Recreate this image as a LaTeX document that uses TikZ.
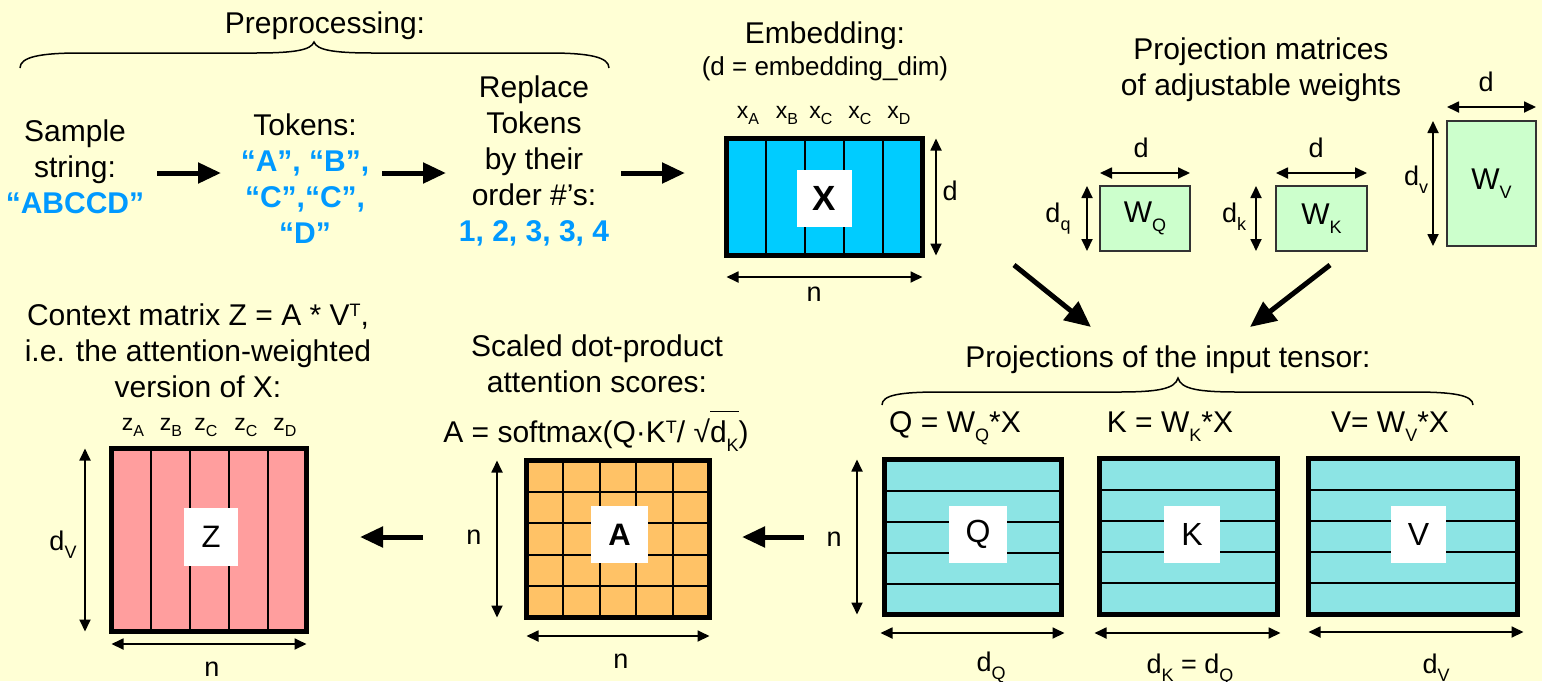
\documentclass[tikz,border=0pt]{standalone}
\usepackage{fontspec}
\setmainfont{Liberation Sans}
\usetikzlibrary{arrows.meta,calc}

\definecolor{bgyellow}{HTML}{FFFFD5}
\definecolor{tokblue}{HTML}{0099FF}
\definecolor{embfill}{HTML}{00CCFF}
\definecolor{wfill}{HTML}{CCFFCC}
\definecolor{projfill}{HTML}{8CE4E4}
\definecolor{ctxfill}{HTML}{FF9E9E}
\definecolor{attfill}{HTML}{FFC266}

% small lowered / raised text in the current font family
\newcommand\subtx[2][18]{\raisebox{-0.3em}{\fontsize{#1}{#1}\selectfont #2}}
\newcommand\suptx[2][18]{\raisebox{0.3em}{\fontsize{#1}{#1}\selectfont #2}}
\newcommand\tokfmt{\color{tokblue}\bfseries}
% bar drawn over its argument (radicand of the square root)
\newcommand\ovl[1]{\setbox0=\hbox{#1}\rlap{\rule[1.0em]{\wd0}{1.5pt}}\box0}

\tikzset{
  every node/.style={inner sep=0pt, outer sep=0pt},
  txt/.style={font=\fontsize{30}{36}\selectfont, align=center},
  note/.style={font=\fontsize{26}{30}\selectfont},
  dimlbl/.style={font=\fontsize{27}{30}\selectfont},
  collbl/.style={font=\fontsize{23}{26}\selectfont},
  flow/.style={line width=5pt, -{Triangle[length=23pt,width=20pt]}},
  slant/.style={line width=5pt, -{Triangle[length=26pt,width=23pt]}},
  dimarr/.style={line width=1.8pt, {Triangle[length=12pt,width=11pt]}-{Triangle[length=12pt,width=11pt]}},
  mat/.style={draw=black, line width=5pt},
  gridline/.style={line width=2pt},
  tag/.style={fill=white},
  wbox/.style={draw=black!80, line width=2pt, fill=wfill, font=\fontsize{30}{30}\selectfont},
  bracepath/.style={line width=1.5pt},
}

\begin{document}
\begin{tikzpicture}[x=1pt,y=-1pt]
\useasboundingbox (0,0) rectangle (1542,681);
\fill[bgyellow] (0,0) rectangle (1542,681);

% ---------- preprocessing ----------
% multi-line nodes are placed by the baseline of their last line
\node[txt, anchor=base] (preproc) at (325,33) {Preprocessing:};
\draw[bracepath] (20,68) .. controls (20,57) and (40,53) .. (80,53) -- (255,53)
  .. controls (295,53) and (311,50) .. (314,42)
  .. controls (317,50) and (333,53) .. (373,53) -- (549,53)
  .. controls (589,53) and (609,57) .. (609,68);

\node[txt, anchor=base] (sample) at (75,213) {Sample\\string:\\{\tokfmt “ABCCD”}};
\node[txt, anchor=base] (tokens) at (305,243) {Tokens:\\{\tokfmt “A”, “B”,}\\{\tokfmt “C”,“C”,}\\{\tokfmt “D”}};
\node[txt, anchor=base] (replace) at (534,241) {Replace\\Tokens\\by their\\order \#’s:\\{\tokfmt 1, 2, 3, 3, 4}};

\coordinate (f1s) at (157,173); \coordinate (f1e) at (221,173);
\coordinate (f2s) at (382,173); \coordinate (f2e) at (446,173);
\coordinate (f3s) at (621,173); \coordinate (f3e) at (685,173);
\draw[flow] (f1s) -- (f1e);
\draw[flow] (f2s) -- (f2e);
\draw[flow] (f3s) -- (f3e);

% ---------- embedding X ----------
\node[txt, anchor=base] (embtitle) at (825,43) {Embedding:};
\node[note, anchor=base] (embnote) at (825,75) {(d = embedding\_dim)};
\node[collbl, anchor=base] (xa) at (748,118) {x\subtx[16]{A}};
\node[collbl, anchor=base] (xb) at (787,118) {x\subtx[16]{B}};
\node[collbl, anchor=base] (xc1) at (821,118) {x\subtx[16]{C}};
\node[collbl, anchor=base] (xc2) at (860,118) {x\subtx[16]{C}};
\node[collbl, anchor=base] (xd) at (899,118) {x\subtx[16]{D}};

\node[mat, fill=embfill, minimum width=196pt, minimum height=117pt] (X) at (824.5,197) {};
\foreach \i in {1,...,4}
  \draw[gridline] ($(X.north west)!\i/5!(X.north east)$) -- ($(X.south west)!\i/5!(X.south east)$);
\node[tag, font=\fontsize{35}{35}\selectfont\bfseries, minimum width=55pt, minimum height=57pt] (Xtag) at (824.5,198.5) {X};
\draw[dimarr] ([xshift=13.5pt]X.north east) -- ([xshift=13.5pt]X.south east);
\draw[dimarr] ([yshift=-21.5pt]X.south west) -- ([yshift=-21.5pt]X.south east);
\node[dimlbl] (Xd) at (950,191) {d};
\node[dimlbl] (Xn) at (814,294) {n};

% ---------- projection matrices ----------
\node[txt, anchor=base] (projmat) at (1261,95) {Projection matrices\\of adjustable weights};

\node[wbox, minimum width=90pt, minimum height=65pt] (WQ) at (1145,218.5) {W\subtx{Q}};
\node[wbox, minimum width=91pt, minimum height=65pt] (WK) at (1321.5,218.5) {W\subtx{K}};
\node[wbox, minimum width=89pt, minimum height=125pt] (WV) at (1491.5,183.5) {W\subtx{V}};

\draw[dimarr] ([yshift=13pt]WQ.north west) -- ([yshift=13pt]WQ.north east);
\draw[dimarr] ([xshift=-13pt]WQ.north west) -- ([xshift=-13pt]WQ.south west);
\node[dimlbl] (WQd) at (1141,148) {d};
\node[dimlbl, anchor=base] (WQdq) at (1058,222) {d\subtx{q}};

\draw[dimarr] ([yshift=13pt]WK.north west) -- ([yshift=13pt]WK.north east);
\draw[dimarr] ([xshift=-20pt]WK.north west) -- ([xshift=-20pt]WK.south west);
\node[dimlbl] (WKd) at (1316,148) {d};
\node[dimlbl, anchor=base] (WKdk) at (1234,222) {d\subtx{k}};

\draw[dimarr] ([yshift=14pt]WV.north west) -- ([yshift=14pt]WV.north east);
\draw[dimarr] ([xshift=-14pt]WV.north west) -- ([xshift=-14pt]WV.south west);
\node[dimlbl] (WVd) at (1486,82) {d};
\node[dimlbl, anchor=base] (WVdv) at (1416,185) {d\subtx{v}};

\coordinate (s1s) at (1014,265); \coordinate (s1e) at (1091,327);
\coordinate (s2s) at (1330,265); \coordinate (s2e) at (1250,327);
\draw[slant] (s1s) -- (s1e);
\draw[slant] (s2s) -- (s2e);

% ---------- Q, K, V ----------
\node[txt, anchor=base] (projin) at (1168,367) {Projections of the input tensor:};
\draw[bracepath] (882,405) .. controls (882,395) and (900,392) .. (940,392) -- (1118,392)
  .. controls (1158,392) and (1175,389) .. (1178,378)
  .. controls (1181,389) and (1198,392) .. (1238,392) -- (1413,392)
  .. controls (1453,392) and (1473,395) .. (1473,405);

\node[txt, anchor=base] (qeq) at (955,432) {Q = W\subtx{Q}*X};
\node[txt, anchor=base] (keq) at (1170,432) {K = W\subtx{K}*X};
\node[txt, anchor=base] (veq) at (1390,432) {V= W\subtx{V}*X};

\node[mat, fill=projfill, minimum width=177pt, minimum height=155pt] (Q) at (973,537) {};
\node[mat, fill=projfill, minimum width=178pt, minimum height=156pt] (K) at (1188.5,536.5) {};
\node[mat, fill=projfill, minimum width=209pt, minimum height=156pt] (V) at (1413,536.5) {};
\foreach \m in {Q,K,V}
  \foreach \i in {1,...,4}
    \draw[gridline] ($(\m.north west)!\i/5!(\m.south west)$) -- ($(\m.north east)!\i/5!(\m.south east)$);
\node[tag, font=\fontsize{32}{32}\selectfont, minimum width=58pt, minimum height=57pt] (Qtag) at (978,534.5) {Q};
\node[tag, font=\fontsize{32}{32}\selectfont, minimum width=56pt, minimum height=57pt] (Ktag) at (1192,534.5) {K};
\node[tag, font=\fontsize{32}{32}\selectfont, minimum width=55pt, minimum height=57pt] (Vtag) at (1418.5,534.5) {V};

\draw[dimarr] ([xshift=-27.5pt]Q.north west) -- ([xshift=-27.5pt]Q.south west);
\node[dimlbl] (Qn) at (834,539) {n};
\draw[dimarr] ([yshift=-18.5pt,xshift=-4pt]Q.south west) -- ([yshift=-18.5pt,xshift=3pt]Q.south east);
\draw[dimarr] ([yshift=-18.5pt,xshift=-5pt]K.south west) -- ([yshift=-18.5pt,xshift=3pt]K.south east);
\draw[dimarr] ([yshift=-17.5pt]V.south west) -- ([yshift=-17.5pt,xshift=6pt]V.south east);
\node[dimlbl, anchor=base] (Qdq) at (991,671) {d\subtx{Q}};
\node[dimlbl, anchor=base] (Kdk) at (1190,673) {d\subtx{K} = d\subtx{Q}};
\node[dimlbl, anchor=base] (Vdv) at (1436,673) {d\subtx{V}};

% ---------- attention scores A ----------
\node[txt, anchor=base] (scaled) at (597,392) {Scaled dot-product\\attention scores:};
\node[txt, anchor=base] (softmax) at (596,442) {A = softmax(Q·K\suptx{T}/ √\ovl{d\subtx{K}})};
\node[mat, fill=attfill, minimum width=183pt, minimum height=157pt] (A) at (618,539) {};
\foreach \i in {1,...,4} {
  \draw[gridline] ($(A.north west)!\i/5!(A.north east)$) -- ($(A.south west)!\i/5!(A.south east)$);
  \draw[gridline] ($(A.north west)!\i/5!(A.south west)$) -- ($(A.north east)!\i/5!(A.south east)$);
}
\node[tag, font=\fontsize{31}{31}\selectfont\bfseries, minimum width=57pt, minimum height=57pt] (Atag) at (619.5,534.5) {A};
\draw[dimarr] ([xshift=-29.5pt]A.north west) -- ([xshift=-29.5pt]A.south west);
\draw[dimarr] ([yshift=-18.5pt]A.south west) -- ([yshift=-18.5pt]A.south east);
\node[dimlbl] (Anv) at (474,537) {n};
\node[dimlbl] (Anh) at (621,661) {n};

\coordinate (q2as) at (804,537); \coordinate (q2ae) at (742,537);
\draw[flow] (q2as) -- (q2ae);
\coordinate (a2zs) at (423,537); \coordinate (a2ze) at (360,537);
\draw[flow] (a2zs) -- (a2ze);

% ---------- context Z ----------
\node[txt, anchor=base] (context) at (198,397) {Context matrix Z = A * V\suptx{T},\\i.e. the attention-weighted\\version of X:};
\node[collbl, anchor=base] (za) at (133,430) {z\subtx[16]{A}};
\node[collbl, anchor=base] (zb) at (171,430) {z\subtx[16]{B}};
\node[collbl, anchor=base] (zc1) at (206,430) {z\subtx[16]{C}};
\node[collbl, anchor=base] (zc2) at (246,430) {z\subtx[16]{C}};
\node[collbl, anchor=base] (zd) at (285,430) {z\subtx[16]{D}};

\node[mat, fill=ctxfill, minimum width=195pt, minimum height=183pt] (Z) at (209,540) {};
\foreach \i in {1,...,4}
  \draw[gridline] ($(Z.north west)!\i/5!(Z.north east)$) -- ($(Z.south west)!\i/5!(Z.south east)$);
\node[tag, font=\fontsize{31}{31}\selectfont, minimum width=54pt, minimum height=58pt] (Ztag) at (211,537) {Z};
\draw[dimarr] ([xshift=-26.5pt]Z.north west) -- ([xshift=-26.5pt]Z.south west);
\draw[dimarr] ([yshift=-12.5pt]Z.south west) -- ([yshift=-12.5pt]Z.south east);
\node[dimlbl, anchor=base] (Zdv) at (63,550) {d\subtx{V}};
\node[dimlbl] (Zn) at (212,669) {n};
\end{tikzpicture}
\end{document}
